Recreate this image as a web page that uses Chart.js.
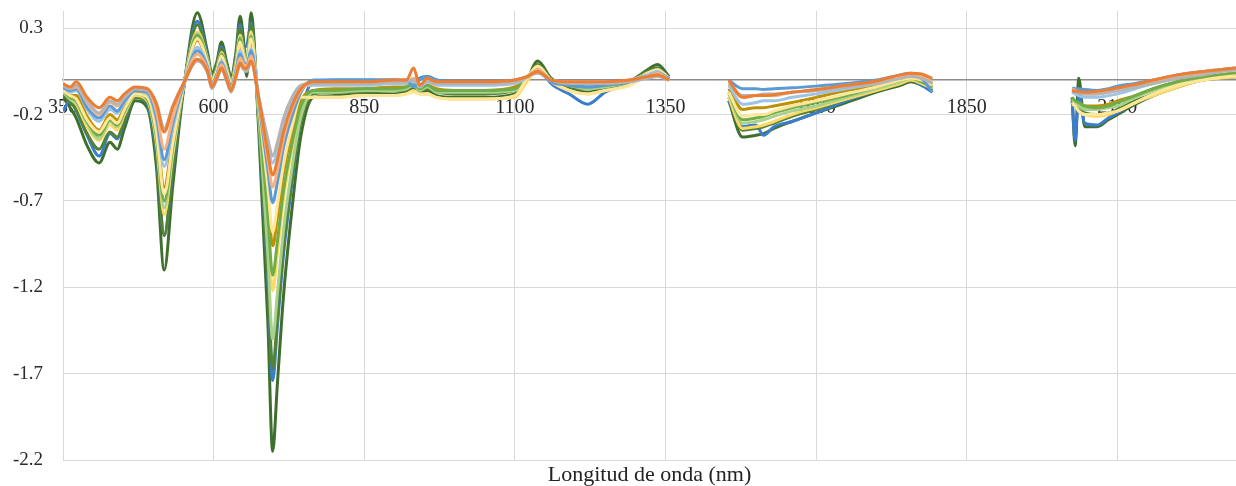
<!DOCTYPE html>
<html><head><meta charset="utf-8">
<script src="https://cdn.jsdelivr.net/npm/chart.js@4.4.1/dist/chart.umd.min.js"></script>
<style>html,body{margin:0;padding:0;background:#fff}#wrap{width:1236px;height:486px;position:relative}</style>
</head><body><div id="wrap"><canvas id="c" width="1236" height="486"></canvas></div>
<script>
// Wavelengths (nm); null entries at 1400 and 1900 mark removed water bands
const wavelengths = [350,362,372,390,410,428,440,452,470,490,505,518,532,550,573,590,597,605,613,622,629,637,644,650,655,662,675,690,698,706,716,730,745,766,800,850,900,920,932,942,955,970,1000,1050,1100,1120,1138,1160,1190,1221,1250,1290,1320,1337,1356,
  1400,
  1455,1478,1500,1513,1530,1560,1600,1650,1700,1740,1757,1775,1793,
  1900,
  2025,2030,2036,2046,2067,2085,2100,2130,2160,2200,2243,2270,2297];
const xTicks = [350,600,850,1100,1350,1600,1850,2100];
const yTicks = [-2.2,-1.7,-1.2,-0.7,-0.2,0.3];

const orange = [-0.02,-0.04,-0.01,-0.10,-0.16,-0.10,-0.12,-0.08,-0.04,-0.05,-0.14,-0.30,-0.16,-0.02,0.12,0.05,-0.04,0.01,0.07,0.00,-0.06,0.02,0.10,0.07,0.07,0.11,-0.11,-0.42,-0.55,-0.46,-0.30,-0.15,-0.05,-0.01,-0.01,-0.01,0.00,0.00,0.07,-0.03,0.01,-0.01,-0.01,-0.01,0.00,0.02,0.05,0.00,-0.01,-0.01,-0.01,0.00,0.02,0.03,0.00,
  null, 0.00,-0.10,-0.09,-0.09,-0.085,-0.07,-0.055,-0.03,-0.005,0.03,0.04,0.035,0.01,
  null, -0.06,-0.065,-0.065,-0.07,-0.065,-0.055,-0.045,-0.025,0.00,0.03,0.05,0.06,0.07];
const gray = [-0.03,-0.05,-0.03,-0.12,-0.19,-0.12,-0.14,-0.10,-0.05,-0.06,-0.13,-0.28,-0.15,-0.02,0.11,0.04,-0.05,0.00,0.06,-0.01,-0.07,0.01,0.09,0.06,0.05,0.10,-0.10,-0.34,-0.44,-0.36,-0.22,-0.10,-0.03,-0.02,-0.02,-0.02,-0.01,-0.01,0.00,-0.03,-0.01,-0.02,-0.02,-0.02,-0.01,0.02,0.04,0.00,-0.02,-0.02,-0.02,-0.01,0.01,0.02,0.00,
  null, -0.02,-0.09,-0.09,-0.08,-0.08,-0.07,-0.06,-0.04,-0.02,0.01,0.02,0.01,-0.02,
  null, -0.06,-0.07,-0.07,-0.08,-0.08,-0.07,-0.06,-0.04,-0.02,0.01,0.03,0.05,0.06];
const lightOrange = [-0.03,-0.05,-0.04,-0.13,-0.20,-0.13,-0.15,-0.10,-0.05,-0.06,-0.18,-0.40,-0.22,-0.02,0.15,0.06,-0.03,0.02,0.09,0.01,-0.05,0.04,0.13,0.09,0.08,0.14,-0.12,-0.46,-0.62,-0.52,-0.34,-0.17,-0.06,-0.02,-0.02,-0.02,-0.01,-0.01,0.01,-0.03,0.00,-0.02,-0.02,-0.02,-0.01,0.02,0.06,0.00,-0.01,-0.02,-0.02,0.00,0.02,0.04,0.00,
  null, -0.01,-0.10,-0.09,-0.09,-0.09,-0.07,-0.06,-0.03,-0.01,0.02,0.03,0.02,-0.01,
  null, -0.05,-0.06,-0.07,-0.08,-0.08,-0.07,-0.06,-0.03,-0.01,0.02,0.04,0.05,0.06];
const midBlue = [-0.04,-0.06,-0.05,-0.16,-0.22,-0.15,-0.18,-0.12,-0.06,-0.07,-0.21,-0.46,-0.25,-0.03,0.17,0.07,-0.02,0.03,0.10,0.02,-0.04,0.05,0.15,0.10,0.08,0.17,-0.13,-0.52,-0.71,-0.59,-0.39,-0.21,-0.07,0.00,0.00,0.00,0.00,0.00,-0.04,0.00,0.02,0.00,-0.01,-0.01,0.00,0.02,0.05,-0.01,-0.03,-0.04,-0.03,-0.01,0.02,0.04,0.01,
  null, 0.00,-0.05,-0.05,-0.055,-0.05,-0.045,-0.035,-0.02,0.00,0.03,0.04,0.01,-0.07,
  null, -0.045,-0.05,-0.05,-0.055,-0.06,-0.05,-0.035,-0.02,0.00,0.03,0.05,0.06,0.07];
const lightBlue = [-0.04,-0.07,-0.06,-0.17,-0.24,-0.17,-0.19,-0.13,-0.06,-0.08,-0.23,-0.50,-0.28,-0.03,0.19,0.08,-0.02,0.03,0.11,0.03,-0.04,0.06,0.17,0.11,0.08,0.18,-0.10,-0.38,-0.48,-0.41,-0.26,-0.12,-0.04,-0.03,-0.03,-0.03,-0.02,-0.02,-0.01,-0.04,-0.01,-0.03,-0.03,-0.03,-0.02,0.015,0.06,0.00,-0.02,-0.03,-0.02,0.00,0.03,0.05,0.00,
  null, -0.03,-0.14,-0.13,-0.12,-0.12,-0.10,-0.08,-0.05,-0.02,0.02,0.03,0.02,-0.02,
  null, -0.07,-0.08,-0.09,-0.10,-0.10,-0.09,-0.08,-0.05,-0.02,0.01,0.04,0.05,0.06];
const paleYellow = [-0.06,-0.09,-0.11,-0.23,-0.30,-0.22,-0.25,-0.17,-0.08,-0.10,-0.30,-0.66,-0.37,-0.04,0.24,0.10,0.00,0.05,0.14,0.05,-0.02,0.08,0.22,0.14,0.09,0.24,-0.15,-0.62,-0.88,-0.72,-0.49,-0.27,-0.10,-0.10,-0.10,-0.09,-0.09,-0.08,-0.07,-0.08,-0.08,-0.10,-0.11,-0.11,-0.09,0.01,0.08,0.00,-0.06,-0.08,-0.06,-0.03,0.04,0.06,0.01,
  null, -0.07,-0.21,-0.20,-0.20,-0.18,-0.15,-0.12,-0.08,-0.04,0.00,0.01,0.00,-0.03,
  null, -0.13,-0.15,-0.18,-0.20,-0.20,-0.19,-0.18,-0.13,-0.08,-0.03,0.00,0.015,0.025];
const green = [-0.06,-0.10,-0.12,-0.24,-0.32,-0.23,-0.26,-0.18,-0.08,-0.11,-0.32,-0.70,-0.39,-0.04,0.26,0.11,0.00,0.06,0.15,0.05,-0.02,0.09,0.24,0.15,0.10,0.25,-0.18,-0.78,-1.13,-0.93,-0.64,-0.37,-0.15,-0.06,-0.06,-0.05,-0.05,-0.04,-0.02,-0.05,-0.03,-0.06,-0.06,-0.06,-0.05,0.01,0.08,0.00,-0.03,-0.04,-0.03,-0.01,0.04,0.06,0.01,
  null, -0.07,-0.23,-0.22,-0.21,-0.19,-0.16,-0.13,-0.09,-0.04,0.00,0.01,-0.01,-0.04,
  null, -0.10,-0.12,-0.13,-0.15,-0.16,-0.15,-0.13,-0.09,-0.05,-0.01,0.02,0.03,0.04];
const lightGreen = [-0.06,-0.11,-0.13,-0.25,-0.34,-0.24,-0.27,-0.19,-0.08,-0.11,-0.34,-0.74,-0.41,-0.04,0.27,0.11,0.00,0.06,0.15,0.06,-0.02,0.10,0.25,0.15,0.10,0.26,-0.22,-1.01,-1.50,-1.23,-0.87,-0.51,-0.21,-0.07,-0.07,-0.06,-0.06,-0.05,-0.03,-0.06,-0.04,-0.07,-0.07,-0.07,-0.06,0.01,0.08,0.00,-0.03,-0.05,-0.04,-0.01,0.04,0.06,0.01,
  null, -0.08,-0.25,-0.24,-0.23,-0.21,-0.18,-0.15,-0.10,-0.05,-0.01,0.01,-0.01,-0.04,
  null, -0.11,-0.13,-0.15,-0.17,-0.17,-0.16,-0.15,-0.10,-0.06,-0.02,0.02,0.03,0.04];
const gold = [-0.05,-0.09,-0.09,-0.21,-0.29,-0.20,-0.23,-0.16,-0.07,-0.09,-0.28,-0.62,-0.34,-0.04,0.23,0.09,-0.01,0.05,0.13,0.04,-0.03,0.08,0.21,0.13,0.09,0.22,-0.16,-0.67,-0.96,-0.79,-0.54,-0.30,-0.12,-0.06,-0.05,-0.05,-0.04,-0.04,-0.02,-0.05,-0.03,-0.05,-0.06,-0.06,-0.04,0.01,0.07,0.00,-0.03,-0.04,-0.03,-0.01,0.04,0.05,0.01,
  null, -0.05,-0.17,-0.16,-0.16,-0.15,-0.13,-0.10,-0.06,-0.03,0.01,0.02,0.01,-0.02,
  null, -0.12,-0.14,-0.14,-0.15,-0.15,-0.14,-0.12,-0.09,-0.05,-0.01,0.02,0.03,0.04];
const yellow = [-0.07,-0.11,-0.14,-0.27,-0.35,-0.26,-0.29,-0.20,-0.09,-0.12,-0.36,-0.78,-0.44,-0.04,0.28,0.12,0.01,0.06,0.16,0.06,-0.01,0.10,0.26,0.16,0.10,0.28,-0.19,-0.83,-1.22,-1.00,-0.69,-0.40,-0.16,-0.10,-0.10,-0.09,-0.09,-0.08,-0.06,-0.08,-0.08,-0.10,-0.11,-0.11,-0.10,-0.01,0.06,-0.01,-0.06,-0.08,-0.06,-0.03,0.03,0.05,0.00,
  null, -0.10,-0.28,-0.27,-0.26,-0.24,-0.20,-0.16,-0.11,-0.06,-0.02,0.00,-0.02,-0.05,
  null, -0.14,-0.15,-0.18,-0.20,-0.21,-0.20,-0.18,-0.13,-0.09,-0.04,0.00,0.01,0.02];
const mossGreen = [-0.08,-0.13,-0.17,-0.31,-0.40,-0.30,-0.33,-0.23,-0.10,-0.13,-0.41,-0.90,-0.51,-0.05,0.32,0.13,0.02,0.08,0.18,0.08,0.00,0.13,0.30,0.18,0.11,0.32,-0.24,-1.11,-1.67,-1.37,-0.97,-0.57,-0.24,-0.08,-0.07,-0.07,-0.06,-0.06,-0.03,-0.06,-0.05,-0.07,-0.08,-0.08,-0.06,0.00,0.09,0.01,-0.04,-0.05,-0.04,-0.01,0.05,0.07,0.01,
  null, -0.10,-0.29,-0.28,-0.27,-0.25,-0.21,-0.17,-0.11,-0.06,-0.02,0.00,-0.02,-0.05,
  null, -0.13,-0.14,-0.17,-0.19,-0.20,-0.19,-0.17,-0.12,-0.08,-0.03,0.01,0.02,0.03];
const blue = [-0.18,-0.12,-0.18,-0.32,-0.44,-0.31,-0.34,-0.24,-0.10,-0.14,-0.43,-0.90,-0.53,-0.05,0.34,0.14,0.02,0.08,0.19,0.08,0.00,0.13,0.32,0.19,0.20,0.33,-0.25,-1.15,-1.74,-1.42,-1.01,-0.60,-0.20,-0.01,0.00,0.00,0.00,-0.01,-0.03,0.01,0.02,0.00,-0.01,-0.01,-0.01,0.01,0.08,-0.02,-0.08,-0.14,-0.07,-0.02,0.04,0.07,0.01,
  null, -0.12,-0.27,-0.26,-0.32,-0.27,-0.24,-0.19,-0.12,-0.06,-0.01,0.00,-0.03,-0.07,
  null, -0.12,-0.35,-0.08,-0.25,-0.26,-0.22,-0.19,-0.13,-0.08,-0.03,0.01,0.02,0.03];
const darkGreen = [-0.10,-0.16,-0.22,-0.38,-0.48,-0.36,-0.40,-0.28,-0.12,-0.16,-0.50,-1.10,-0.62,-0.06,0.39,0.16,0.04,0.10,0.22,0.10,0.02,0.16,0.37,0.22,0.02,0.39,-0.30,-1.40,-2.15,-1.75,-1.25,-0.75,-0.32,-0.10,-0.09,-0.08,-0.08,-0.07,-0.05,-0.07,-0.06,-0.09,-0.10,-0.10,-0.08,0.00,0.11,0.01,-0.05,-0.07,-0.05,-0.01,0.06,0.09,0.02,
  null, -0.12,-0.33,-0.32,-0.31,-0.28,-0.24,-0.19,-0.13,-0.07,-0.03,-0.01,-0.03,-0.06,
  null, -0.10,-0.38,0.01,-0.27,-0.27,-0.23,-0.20,-0.14,-0.09,-0.04,0.00,0.01,0.02];

const seriesValues = [orange, gray, lightOrange, midBlue, lightBlue, paleYellow, green, lightGreen, gold, yellow, mossGreen, blue, darkGreen];
const seriesColors = ['#ED7D31','#B4B4B4','#F4B183','#5B9BD5','#9DC3E6','#FFE699','#70AD47','#A9D18E','#BF9000','#FFD966','#548235','#3A7DCC','#3F6F2C'];

const datasets = seriesValues.map((vals, i) => ({
  label: 'S' + (i + 1),
  data: wavelengths.map((w, j) => ({x: w, y: vals[j]})),
  borderColor: seriesColors[i],
  backgroundColor: seriesColors[i],
  borderWidth: 3,
  pointRadius: 0,
  fill: false,
  spanGaps: false,
  cubicInterpolationMode: 'monotone'
}));

const serif = "'Liberation Serif', 'Times New Roman', serif";

new Chart(document.getElementById('c'), {
  type: 'line',
  data: { datasets },
  options: {
    responsive: false,
    animation: false,
    layout: { padding: { top: 11, right: 0, bottom: 0, left: 0 } },
    plugins: {
      legend: { display: false },
      tooltip: { enabled: false },
      title: {
        display: true,
        text: 'Longitud de onda (nm)',
        position: 'bottom',
        fullSize: false,
        color: '#222',
        font: { family: serif, size: 22, weight: 'normal', lineHeight: 1.0 },
        padding: { top: 4, bottom: 0 }
      }
    },
    scales: {
      x: {
        type: 'linear',
        position: { y: 0 },
        min: 350,
        max: 2297,
        afterBuildTicks: (s) => { s.ticks = xTicks.map(v => ({ value: v })); },
        afterFit: (s) => { s.paddingLeft = 0; s.paddingRight = 0; s.paddingTop = 0; s.paddingBottom = 0; },
        grid: { color: '#d9d9d9', lineWidth: 1, drawTicks: false },
        border: { display: true, color: '#8c8c8c', width: 1.5 },
        ticks: {
          padding: 16,
          color: '#2a2a2a',
          font: { family: serif, size: 20 },
          maxRotation: 0,
          autoSkip: false,
          callback: (v) => String(v)
        }
      },
      y: {
        type: 'linear',
        min: -2.2,
        max: 0.4,
        afterBuildTicks: (s) => { s.ticks = yTicks.map(v => ({ value: v })); },
        afterFit: (s) => { s.width = 63; s.paddingTop = 0; s.paddingBottom = 0; },
        grid: { color: '#d9d9d9', lineWidth: 1, drawTicks: false },
        border: { display: true, color: '#d9d9d9', width: 1 },
        ticks: {
          padding: 20,
          color: '#2a2a2a',
          font: { family: serif, size: 19 },
          callback: (v) => Number(v).toFixed(1)
        }
      }
    }
  }
});
</script></body></html>
